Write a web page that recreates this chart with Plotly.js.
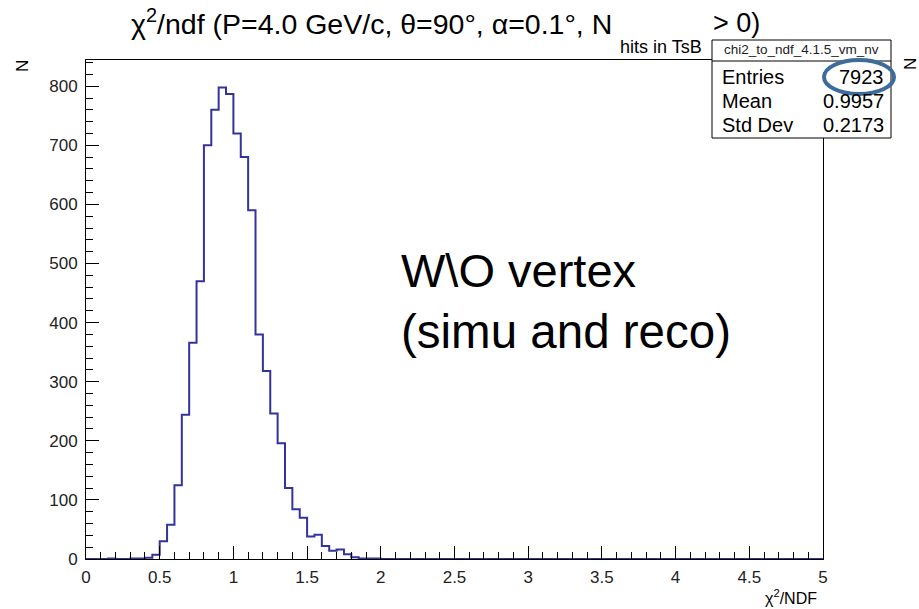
<!DOCTYPE html>
<html>
<head>
<meta charset="utf-8">
<script src="https://cdn.plot.ly/plotly-3.0.1.min.js"></script>
<style>html,body{margin:0;padding:0;background:#fff;}#chart{width:919px;height:609px;}</style>
</head>
<body>
<div id="chart"></div>
<script>
// ---- data ----
const binWidth = 0.05;
const binStart = 0.0;
// counts for bins 0.00 .. 2.00 (40 bins of width 0.05)
const countsLow = [
  0, 0, 0, 1, 0, 0, 1, 1, 2, 7,          // 0.00 - 0.50
  30, 58, 125, 244, 366, 470, 700, 760, 798, 787,   // 0.50 - 1.00
  720, 680, 590, 380, 318, 246, 196, 120, 84, 70,   // 1.00 - 1.50
  38, 41, 22, 14, 16, 8, 3, 1, 1, 1      // 1.50 - 2.00
];
// bins 2.00 .. 5.00 are empty
const countsHigh = new Array(60).fill(0);
const xTickVals = [0, 0.5, 1, 1.5, 2, 2.5, 3, 3.5, 4, 4.5, 5];
const xTickText = ["0", "0.5", "1", "1.5", "2", "2.5", "3", "3.5", "4", "4.5", "5"];
const yTickVals = [0, 100, 200, 300, 400, 500, 600, 700, 800];
const statsName = "chi2_to_ndf_4.1.5_vm_nv";
const statsLabels = ["Entries", "Mean", "Std Dev"];
const statsValues = ["7923", "0.9957", "0.2173"];

// ---- build step outline ----
const counts = countsLow.concat(countsHigh);
const xs = [], ys = [];
for (let i = 0; i < counts.length; i++) {
  xs.push(binStart + i * binWidth);
  ys.push(counts[i]);
}
xs.push(binStart + counts.length * binWidth);
ys.push(counts[counts.length - 1]);

// pixel -> paper helpers (plot area 86..823 x, 60..559 y)
const L = 86, R = 823, T = 60, B = 559;
const PX = p => (p - L) / (R - L);
const PY = p => (B - p) / (B - T);

const FONT = "Liberation Sans, Arial, sans-serif";

const trace = {
  x: xs, y: ys, type: "scatter", mode: "lines",
  line: {shape: "hv", color: "#333399", width: 2},
  hoverinfo: "skip", showlegend: false
};

const annotations = [];
function ann(text, px, py, size, xanchor, yanchor, extra) {
  annotations.push(Object.assign({
    text: text, xref: "paper", yref: "paper", x: PX(px), y: PY(py),
    xanchor: xanchor, yanchor: yanchor, showarrow: false,
    font: {family: FONT, size: size, color: "#000"}
  }, extra || {}));
}
// title pieces
ann("χ<sup>2</sup>/ndf (P=4.0 GeV/c, θ=90°, α=0.1°, N", 614, 22, 28.5, "right", "middle");
ann("hits in TsB", 618, 47, 18, "left", "middle");
ann("&gt; 0)", 711, 23, 27, "left", "middle");
// axis titles
ann("N", 22, 66, 17, "center", "middle", {textangle: -90});
ann("χ<sup>2</sup>/NDF", 819, 597, 16, "right", "middle");
ann("N", 910, 64, 17, "center", "middle", {textangle: -90});
// big text
ann("W\\O vertex", 399, 270, 47, "left", "middle");
ann("(simu and reco)", 399, 331, 47.5, "left", "middle");
// stats box text
ann(statsName, 801, 50, 13.5, "center", "middle", {font: {family: FONT, size: 13.5, color: "#222"}});
const rowY = [77, 101, 125];
for (let i = 0; i < statsLabels.length; i++) {
  ann(statsLabels[i], 720, rowY[i], 20, "left", "middle");
  ann(statsValues[i], 886, rowY[i], 20, "right", "middle");
}

const shapes = [
  {type: "rect", xref: "paper", yref: "paper", x0: PX(712), x1: PX(891), y0: PY(138), y1: PY(40),
   line: {color: "#000", width: 1}, fillcolor: "#fff", layer: "above"},
  {type: "line", xref: "paper", yref: "paper", x0: PX(712), x1: PX(891), y0: PY(61), y1: PY(61),
   line: {color: "#000", width: 1}, layer: "above"},
  {type: "circle", xref: "paper", yref: "paper", x0: PX(824), x1: PX(894), y0: PY(94), y1: PY(60),
   line: {color: "#3d6b9c", width: 4}, layer: "above"}
];

const layout = {
  width: 919, height: 609,
  margin: {l: L, r: 919 - R, t: T, b: 609 - B, pad: 0},
  paper_bgcolor: "#fff", plot_bgcolor: "#fff",
  showlegend: false,
  xaxis: {
    range: [0, 5], tickvals: xTickVals, ticktext: xTickText,
    ticks: "inside", ticklen: 13, tickwidth: 1, tickcolor: "#000",
    minor: {dtick: 0.1, ticks: "inside", ticklen: 7, tickcolor: "#000", showgrid: false},
    showgrid: false, zeroline: false, showline: true, linecolor: "#000", linewidth: 1, mirror: true,
    tickfont: {family: FONT, size: 17, color: "#222"}, ticklabelstandoff: 3
  },
  yaxis: {
    range: [0, (B - T) / 0.591], tickvals: yTickVals,
    ticks: "inside", ticklen: 13, tickwidth: 1, tickcolor: "#000",
    minor: {dtick: 20, ticks: "inside", ticklen: 7, tickcolor: "#000", showgrid: false},
    showgrid: false, zeroline: false, showline: true, linecolor: "#000", linewidth: 1, mirror: true,
    tickfont: {family: FONT, size: 17, color: "#222"}, ticklabelstandoff: 4
  },
  annotations: annotations,
  shapes: shapes
};

Plotly.newPlot("chart", [trace], layout, {staticPlot: true, displayModeBar: false});
</script>
</body>
</html>
